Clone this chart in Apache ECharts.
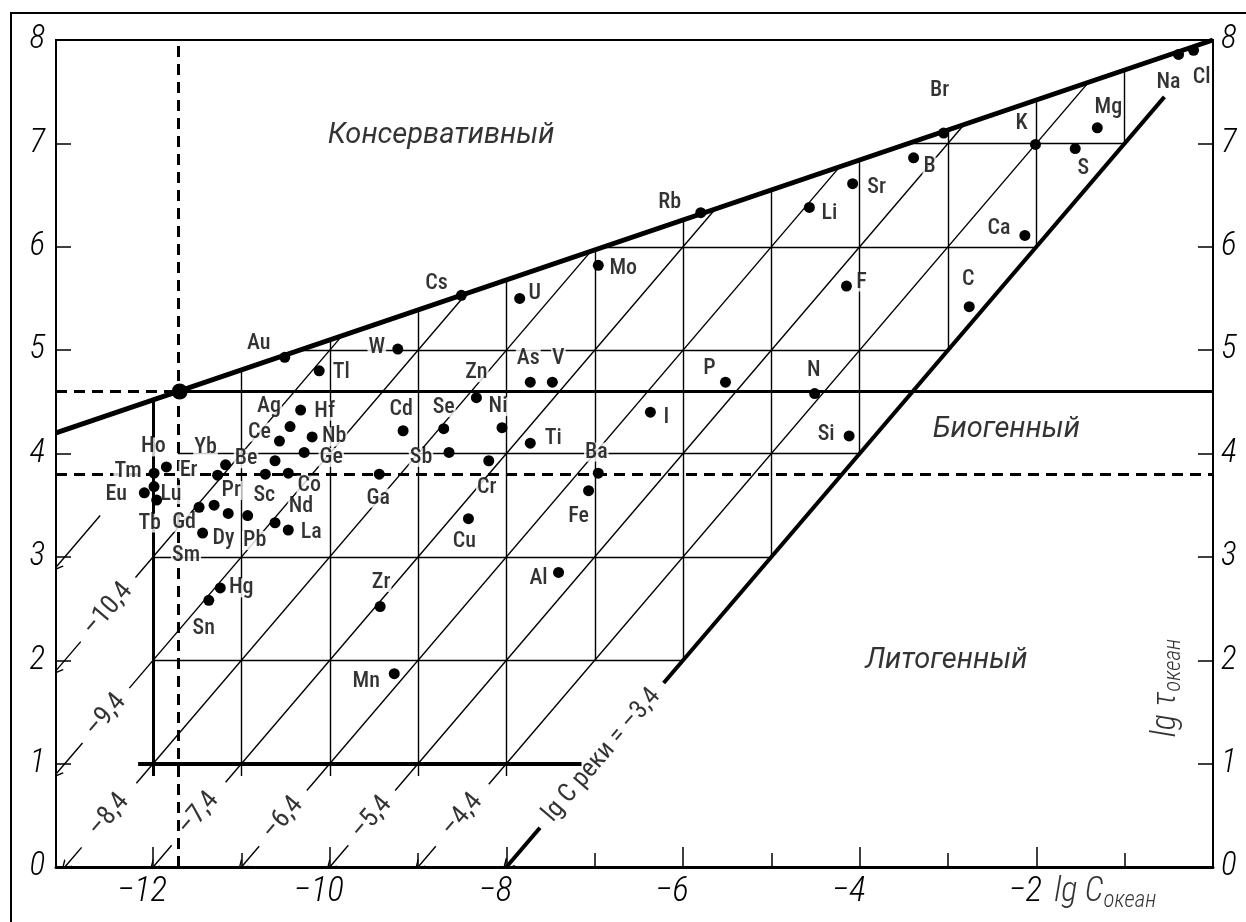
<!DOCTYPE html>
<html><head><meta charset="utf-8">
<script src="https://cdn.jsdelivr.net/npm/echarts@6/dist/echarts.min.js"></script>
<style>
html,body{margin:0;padding:0;background:#fff}
#wrap{position:relative;width:1246px;height:922px;overflow:hidden}
#c{position:absolute;left:0;top:0;width:1246px;height:922px}
#frame{position:absolute;left:10px;top:12px;right:-10px;bottom:-10px;border-top:2px solid #000;border-left:2px solid #000;pointer-events:none}
</style>
</head><body><div id="wrap"><div id="c"></div><div id="frame"></div></div>
<script>
// ---------- data ----------
const elements = ['Au','W','Tl','Hf','Ag','Ce','Nb','Ge','Be','Yb','Er','Ho','Tm','Eu','Lu','Tb','Gd','Pr','Sm','Dy','Pb','Sc','Co','Nd','La','Hg','Sn','Cs','U','Mo','As','V','P','Zn','Ni','I','Se','Cd','Ti','Sb','Cr','Ba','Fe','Cu','Ga','Zr','Mn','Al','Rb','Br','B','Sr','Li','K','S','Mg','Na','Cl','Ca','F','C','N','Si'];
const lgCOcean = [-10.51,-9.23,-10.12,-10.33,-10.45,-10.57,-10.20,-10.29,-10.62,-11.18,-11.27,-11.85,-11.99,-12.10,-11.99,-11.96,-11.48,-11.15,-11.31,-11.44,-10.93,-10.73,-10.47,-10.62,-10.47,-11.24,-11.37,-8.51,-7.85,-6.96,-7.73,-7.48,-5.52,-8.34,-8.05,-6.37,-8.71,-9.17,-7.73,-8.65,-8.20,-6.96,-7.07,-8.43,-9.44,-9.43,-9.27,-7.41,-5.80,-3.05,-3.39,-4.08,-4.57,-2.01,-1.56,-1.31,-0.39,-0.22,-2.13,-4.15,-2.76,-4.51,-4.12];
const lgTauOcean = [4.93,5.01,4.80,4.42,4.26,4.12,4.16,4.01,3.93,3.89,3.79,3.87,3.81,3.62,3.68,3.55,3.48,3.42,3.50,3.23,3.40,3.80,3.81,3.33,3.26,2.70,2.58,5.53,5.50,5.82,4.69,4.69,4.69,4.54,4.25,4.40,4.24,4.22,4.10,4.01,3.93,3.81,3.64,3.37,3.80,2.52,1.87,2.85,6.33,7.10,6.86,6.61,6.38,6.99,6.95,7.15,7.86,7.90,6.11,5.62,5.42,4.58,4.17];
const junctionPoint = [-11.7, 4.6];

const xTickLabels = [-12,-10,-8,-6,-4,-2];
const xMinorTicks = [-11,-9,-7,-5,-3,-1];
const yTickLabels = [0,1,2,3,4,5,6,7,8];
const yTicks = [1,2,3,4,5,6,7];

// boundary and reference lines (lg C_ocean, lg tau_ocean)
const boundaryConservative = [[-13.1,4.2],[0,8]];
const boundaryRiverLow = [[-8,0],[-7.62,0.38]];
const boundaryRiverHigh = [[-6.22,1.78],[-0.55,7.45]];
const tauBiogenic = [[-11.7,4.6],[0,4.6]];
const tauBiogenicDashed = [[-13.1,4.6],[-11.7,4.6]];
const tauLithogenicDashed = [[-13.1,3.8],[0,3.8]];
const cLimitDashed = [[-11.72,0],[-11.72,8]];
const tauOne = [[-12.17,1],[-7.15,1]];
const cMinus12 = [[-12,0.88],[-12,4.52]];
const gridH = [[[-12,2],[-6,2]],[[-12,3],[-5,3]],[[-11.72,4],[-4,4]],[[-10.34,5],[-3,5]],[[-6.9,6],[-2,6]],[[-3.44,7],[-1,7]]];
const gridV = [[[-11,0.88],[-11,4.81]],[[-10,0.88],[-10,5.1]],[[-9,0.88],[-9,5.39]],[[-8,0.88],[-8,5.68]],[[-7,2],[-7,5.97]],[[-6,2],[-6,6.26]],[[-5,3],[-5,6.55]],[[-4,4],[-4,6.84]],[[-3,5],[-3,7.13]],[[-2,6],[-2,7.42]],[[-1,7],[-1,7.71]]];
// isolines lg C_river: start, end and the lg tau span left open for the label
const riverLevels = ['–4,4','–5,4','–6,4','–7,4','–8,4','–9,4','–10,4',''];
const diagStart = [[-9,0],[-10,0],[-11,0],[-12,0],[-13,0],[-13.1,0.9],[-13.1,1.9],[-13.1,2.9]];
const diagEnd = [[-1.41,7.59],[-2.82,7.18],[-4.23,6.77],[-5.63,6.37],[-7.04,5.96],[-8.45,5.55],[-9.86,5.14],[-12.6,3.4]];
const diagGap = [[0.2,0.8],[0.21,0.74],[0.2,0.74],[0.21,0.82],[0.19,0.81],[1.2,1.73],[2.18,2.8],null];

// ---------- layout (label placement) ----------
const labelOffset = {Au:[-26,-14],W:[-21,-2],Tl:[22,2],Hf:[24,1],Ag:[-21,-20],Ce:[-20,-9],Nb:[22,0],Ge:[27,5],Be:[-29,-2],Yb:[-20,-17],Er:[-29,-5],Ho:[-13,-20],Tm:[-26,-2],Eu:[-28,2],Lu:[17,8],Tb:[-7,23],Gd:[-15,15],Pr:[3,-23],Sm:[-28,50],Dy:[21,5],Pb:[7,25],Sc:[-1,21],Co:[21,12],Nd:[26,-16],La:[23,3],Hg:[21,0],Sn:[-5,28],Cs:[-25,-12],U:[15,-5],Mo:[25,3],As:[-2,-24],V:[6,-24],P:[-16,-14],Zn:[0,-25],Ni:[-4,-21],I:[16,5],Se:[0,-21],Cd:[-2,-21],Ti:[23,-5],Sb:[-28,5],Cr:[-2,27],Ba:[-2,-21],Fe:[-10,26],Cu:[-4,23],Ga:[-1,24],Zr:[1,-24],Mn:[-28,8],Al:[-20,6],Rb:[-31,-10],Br:[-4,-43],B:[16,9],Sr:[24,4],Li:[20,6],K:[-14,-21],S:[8,20],Mg:[11,-20],Na:[-10,28],Cl:[8,27],Ca:[-26,-7],F:[15,-4],C:[-1,-27],N:[-1,-23],Si:[-23,-1]};
const regionNames = ['Консервативный','Биогенный','Литогенный'];
const regionAt = [[-8.74,7.07],[-2.34,4.23],[-3.02,2.0]];
const riverMainLabel = 'lg C реки = –3,4';
const riverMainAt = [-6.92,1.08];
const xNameAt = [-1.22,-0.25];
const yNameAt = [-0.53,1.73];

// ---------- chart ----------
const LBL = 'Roboto,"Liberation Sans",sans-serif';
const LBL_W = 'condensed 500';
const NUM_W = 'condensed 300';
const ISO_W = 'condensed 400';
const ITAL = 'Roboto,"Liberation Sans",sans-serif';
const chevron = 'path://M5,0 L10,11 L8.6,11 L5,3 L1.4,11 L0,11 Z';

function linesSeries(list, width, type, extra) {
  return Object.assign({
    type: 'lines', coordinateSystem: 'cartesian2d', silent: true, z: 2,
    symbol: ['none','none'],
    lineStyle: {color: '#000', width: width, type: type || 'solid', opacity: 1, curveness: 0, cap: 'butt'},
    data: list.map(c => ({coords: c}))
  }, extra || {});
}

// split each isoline at its label gap
const diagFirst = [], diagRest = [], diagLabelAt = [];
diagStart.forEach((s, i) => {
  const e = diagEnd[i];
  const k = s[1] - s[0];
  const g = diagGap[i];
  if (g) {
    diagFirst.push([s, [g[0] - k, g[0]]]);
    diagRest.push([[g[1] - k, g[1]], e]);
    const ym = (g[0] + g[1]) / 2;
    diagLabelAt.push([ym - k, ym]);
  } else {
    diagFirst.push([s, e]);
  }
});

const subRich = {
  m: {fontFamily: LBL, fontStyle: 'italic', fontWeight: NUM_W, fontSize: 34, color: '#000', verticalAlign: 'top', lineHeight: 34},
  s: {fontFamily: LBL, fontStyle: 'italic', fontWeight: NUM_W, fontSize: 23, color: '#000', verticalAlign: 'top', lineHeight: 22, padding: [14,0,0,0]}
};
const base = {color: '#000', textBorderWidth: 0, textShadowBlur: 0};

const annotations = [];
regionNames.forEach((t, i) => annotations.push({value: regionAt[i], label: Object.assign({formatter: t, fontFamily: ITAL, fontStyle: 'italic', fontWeight: 'normal', fontSize: 29}, base)}));
diagLabelAt.forEach((p, i) => annotations.push({value: p, label: Object.assign({formatter: riverLevels[i], fontFamily: LBL, fontStyle: 'normal', fontWeight: ISO_W, fontSize: 27, rotate: 49.5}, base)}));
annotations.push({value: riverMainAt, label: Object.assign({formatter: riverMainLabel, fontFamily: LBL, fontStyle: 'normal', fontWeight: ISO_W, fontSize: 26, rotate: 49.5}, base)});
annotations.push({value: xNameAt, label: Object.assign({formatter: '{m|lg C}{s|океан}', rich: subRich}, base)});
annotations.push({value: yNameAt, label: Object.assign({formatter: '{m|lg τ}{s|океан}', rich: subRich, rotate: 90}, base)});

const axisLabelStyle = {fontFamily: LBL, fontStyle: 'italic', fontWeight: NUM_W, fontSize: 33, color: '#000'};

const option = {
  animation: false,
  backgroundColor: '#fff',
  grid: {left: 56, right: 33, top: 40, bottom: 55, show: true, borderColor: '#000', borderWidth: 2, containLabel: false, outerBoundsMode: 'none'},
  xAxis: [
    {type: 'value', min: -13.1, max: 0, position: 'bottom',
     axisLine: {show: true, onZero: false, lineStyle: {color: '#000', width: 3}},
     axisTick: {show: true, inside: true, length: 20, customValues: xTickLabels, lineStyle: {color: '#000', width: 1.5}},
     axisLabel: Object.assign({}, axisLabelStyle, {show: true, customValues: xTickLabels, margin: 8, fontSize: 35, padding: [0,22,0,0],
       formatter: v => String(v).replace('-', '−')}),
     splitLine: {show: false}},
    {type: 'value', min: -13.1, max: 0, position: 'bottom',
     axisLine: {show: false, onZero: false},
     axisTick: {show: true, inside: true, length: 14, customValues: xMinorTicks, lineStyle: {color: '#000', width: 1.5}},
     axisLabel: {show: false}, splitLine: {show: false}}
  ],
  yAxis: [
    {type: 'value', min: 0, max: 8, position: 'left',
     axisLine: {show: true, onZero: false, lineStyle: {color: '#000', width: 2}},
     axisTick: {show: true, inside: true, length: 15, customValues: yTicks, lineStyle: {color: '#000', width: 1.5}},
     axisLabel: Object.assign({show: true, customValues: yTickLabels, margin: 11}, axisLabelStyle),
     splitLine: {show: false}},
    {type: 'value', min: 0, max: 8, position: 'right',
     axisLine: {show: true, onZero: false, lineStyle: {color: '#000', width: 2}},
     axisTick: {show: true, inside: true, length: 15, customValues: yTicks, lineStyle: {color: '#000', width: 1.5}},
     axisLabel: Object.assign({show: true, customValues: yTickLabels, margin: 8}, axisLabelStyle),
     splitLine: {show: false}}
  ],
  series: [
    linesSeries(gridH, 1.4),
    linesSeries(gridV, 1.4),
    linesSeries(diagFirst, 1.4, 'solid', {symbol: [chevron, 'none'], symbolSize: 11}),
    linesSeries(diagRest, 1.4),
    linesSeries([cMinus12], 3),
    linesSeries([tauOne], 4),
    linesSeries([tauBiogenic], 3),
    linesSeries([tauBiogenicDashed, tauLithogenicDashed, cLimitDashed], 3, [11,7]),
    linesSeries([boundaryRiverLow], 4, 'solid', {symbol: [chevron, 'none'], symbolSize: 13}),
    linesSeries([boundaryRiverHigh], 4),
    linesSeries([boundaryConservative], 5),
    {
      type: 'scatter', z: 5, silent: true, clip: false, symbolSize: 1,
      itemStyle: {color: 'rgba(0,0,0,0)'},
      data: elements.map((n, i) => ({name: n, value: [lgCOcean[i], lgTauOcean[i]], label: {offset: labelOffset[n] || [0,-20]}})),
      label: Object.assign({show: true, position: 'inside', formatter: '{b}', fontFamily: LBL, fontWeight: LBL_W, fontSize: 22, backgroundColor: '#fff', padding: [0,1], lineHeight: 19}, base)
    },
    {
      type: 'scatter', z: 5, silent: true, clip: false, symbolSize: 1,
      itemStyle: {color: 'rgba(0,0,0,0)'},
      data: annotations,
      label: Object.assign({show: true, position: 'inside'}, base)
    },
    {
      type: 'scatter', z: 6, silent: true, symbolSize: 11,
      itemStyle: {color: '#000', opacity: 1},
      data: elements.map((n, i) => [lgCOcean[i], lgTauOcean[i]])
    },
    {
      type: 'scatter', z: 6, silent: true, symbolSize: 16,
      itemStyle: {color: '#000', opacity: 1},
      data: [junctionPoint]
    }
  ]
};
const chart = echarts.init(document.getElementById('c'));
chart.setOption(option);
</script>
</body></html>
